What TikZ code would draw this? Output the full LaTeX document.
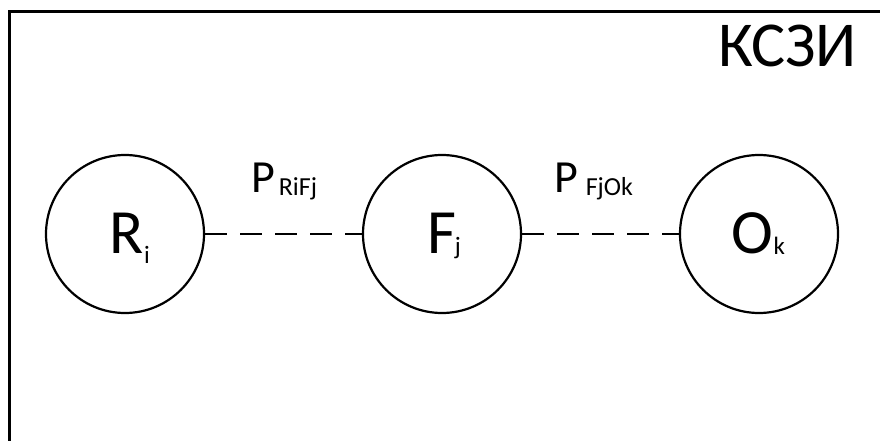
\documentclass[tikz,border=0pt]{standalone}
\usepackage{fontspec}
\setmainfont{Carlito}
\begin{document}
\begin{tikzpicture}[x=1pt,y=1pt,
  state/.style={circle,draw,line width=2.2pt,minimum size=158pt,inner sep=0pt},
  link/.style={line width=2.2pt,dash pattern=on 22pt off 13pt},
  txt/.style={anchor=base west,inner sep=0pt,outer sep=0pt}]
\useasboundingbox (0,0) rectangle (880,-441);
% frame: only the top and left edges are in view
\draw[line width=3.5pt] (9.5,-441) -- (9.5,-11.5) -- (880,-11.5);
% title
\node[anchor=base east,inner sep=0pt] (title) at (857,-67) {\fontsize{64}{64}\selectfont КСЗИ};
% the three states
\node[state] (R) at (125,-234) {};
\node[state] (F) at (442,-234) {};
\node[state] (O) at (759,-234) {};
% their labels
\node[txt] (Rl) at (109,-253) {\fontsize{63}{63}\selectfont R\kern1pt\raisebox{-10pt}{\fontsize{25}{25}\selectfont i}};
\node[txt] (Fl) at (427,-253) {\fontsize{63}{63}\selectfont F\kern-1pt\raisebox{-1pt}{\fontsize{25}{25}\selectfont j}};
\node[txt] (Ol) at (731,-253) {\fontsize{63}{63}\selectfont O\kern1pt\raisebox{-1pt}{\fontsize{25}{25}\selectfont k}};
% links between states
\draw[link] (R.east) -- (F.west);
\draw[link] (F.east) -- (O.west);
% link probabilities
\node[txt] (P1) at (251,-192) {\fontsize{46}{46}\selectfont P\kern4pt\raisebox{-3pt}{\fontsize{26}{26}\selectfont RiFj}};
\node[txt] (P2) at (554,-192) {\fontsize{46}{46}\selectfont P\kern8pt\raisebox{-3pt}{\fontsize{26}{26}\selectfont FjOk}};
\end{tikzpicture}
\end{document}
